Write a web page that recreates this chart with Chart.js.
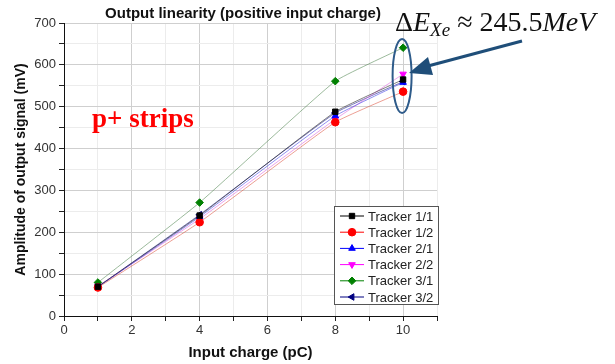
<!DOCTYPE html>
<html>
<head>
<meta charset="utf-8">
<script src="https://cdn.jsdelivr.net/npm/chart.js@4"></script>
<style>
  html, body { margin: 0; padding: 0; background: #fff; }
  #wrap { width: 615px; height: 364px; }
</style>
</head>
<body>
<div id="wrap"><canvas id="chart" width="615" height="364"></canvas></div>
<script>
// ===== DATA =====
const charges = [1, 4, 8, 10];
const tracker11 = [70, 240, 488, 565];
const tracker12 = [68, 224, 463, 536];
const tracker21 = [69, 237, 478, 558];
const tracker22 = [71, 232, 470, 578];
const tracker31 = [80, 271, 561, 641];
const tracker32 = [70, 242, 485, 560];
const seriesNames = ['Tracker 1/1', 'Tracker 1/2', 'Tracker 2/1', 'Tracker 2/2', 'Tracker 3/1', 'Tracker 3/2'];
const xTicks = [0, 2, 4, 6, 8, 10];
const yTicks = [0, 100, 200, 300, 400, 500, 600, 700];

const FONT = '"Liberation Sans", Arial, sans-serif';
const SERIF = '"Liberation Serif", "DejaVu Serif", serif';

const styles = [
  { color: '#000000', line: 'rgba(0,0,0,0.5)',       point: 'rect',     rot: 0 },
  { color: '#ff0000', line: 'rgba(220,80,60,0.55)',  point: 'circle',   rot: 0 },
  { color: '#0000ff', line: 'rgba(50,50,230,0.55)',  point: 'triangle', rot: 0 },
  { color: '#ff00ff', line: 'rgba(220,90,220,0.55)', point: 'triangle', rot: 180 },
  { color: '#008000', line: 'rgba(90,140,90,0.6)',   point: 'rectRot',  rot: 0 },
  { color: '#000080', line: 'rgba(30,30,140,0.6)',   point: 'triangle', rot: -90 }
];
const allSeries = [tracker11, tracker12, tracker21, tracker22, tracker31, tracker32];

const datasets = allSeries.map((vals, i) => ({
  label: seriesNames[i],
  data: vals.map((v, j) => ({ x: charges[j], y: v })),
  borderColor: styles[i].line,
  backgroundColor: styles[i].color,
  pointBorderColor: styles[i].color,
  pointBackgroundColor: styles[i].color,
  pointStyle: styles[i].point,
  rotation: styles[i].rot,
  pointRadius: 3.8,
  borderWidth: 1,
  tension: 0.12
}));

// ===== OVERLAY (title, annotations, legend) =====
const overlay = {
  id: 'overlay',
  afterDraw(chart) {
    const ctx = chart.ctx;
    ctx.save();

    // title
    ctx.fillStyle = '#111';
    ctx.font = 'bold 15px ' + FONT;
    ctx.textAlign = 'center';
    ctx.textBaseline = 'middle';
    ctx.fillText('Output linearity (positive input charge)', 243, 14);

    // p+ strips
    ctx.fillStyle = '#ff0000';
    ctx.font = 'bold 27px ' + SERIF;
    ctx.textAlign = 'left';
    ctx.textBaseline = 'alphabetic';
    ctx.fillText('p+ strips', 92, 127);

    // ellipse around x = 10
    const cx = chart.scales.x.getPixelForValue(10);
    ctx.strokeStyle = '#2e5b8a';
    ctx.lineWidth = 2;
    ctx.beginPath();
    ctx.ellipse(cx - 1, 76, 9.5, 37, 0, 0, Math.PI * 2);
    ctx.stroke();

    // arrow
    ctx.strokeStyle = '#1f4e79';
    ctx.fillStyle = '#1f4e79';
    ctx.lineWidth = 3;
    ctx.beginPath();
    ctx.moveTo(522, 41);
    ctx.lineTo(428, 66);
    ctx.stroke();
    ctx.beginPath();
    ctx.moveTo(409, 73);
    ctx.lineTo(428, 57);
    ctx.lineTo(433, 75);
    ctx.closePath();
    ctx.fill();

    // Delta E_Xe ≈ 245.5MeV
    ctx.fillStyle = '#111';
    let x = 395;
    const base = 31;
    const parts = [
      ['Δ', '28px ' + SERIF, 0],
      ['E', 'italic 28px ' + SERIF, 0],
      ['Xe', 'italic 19px ' + SERIF, 5],
      [' ≈ 245.5', '28px ' + SERIF, 0],
      ['MeV', 'italic 28px ' + SERIF, 0]
    ];
    parts.forEach(p => {
      ctx.font = p[1];
      ctx.fillText(p[0], x, base + p[2]);
      x += ctx.measureText(p[0]).width;
    });

    // legend box
    const lx = 334, ly = 206, lw = 104, lh = 98;
    ctx.fillStyle = '#fff';
    ctx.fillRect(lx, ly, lw, lh);
    ctx.strokeStyle = '#555';
    ctx.lineWidth = 1;
    ctx.strokeRect(lx + 0.5, ly + 0.5, lw, lh);
    ctx.font = '13px ' + FONT;
    ctx.textBaseline = 'middle';
    chart.data.datasets.forEach((ds, i) => {
      const y = ly + 10 + i * 16.2;
      ctx.strokeStyle = styles[i].color;
      ctx.lineWidth = 1;
      ctx.beginPath();
      ctx.moveTo(lx + 6, y);
      ctx.lineTo(lx + 30, y);
      ctx.stroke();
      ctx.fillStyle = styles[i].color;
      Chart.helpers.drawPoint(ctx, {
        pointStyle: styles[i].point, rotation: styles[i].rot,
        radius: 3.8, borderWidth: 1
      }, lx + 18, y);
      ctx.fillStyle = '#222';
      ctx.fillText(ds.label, lx + 34, y + 1);
    });

    ctx.restore();
  }
};

// ===== CHART =====
new Chart(document.getElementById('chart'), {
  type: 'line',
  data: { datasets },
  options: {
    responsive: false,
    animation: false,
    layout: { padding: { top: 23, right: 178, left: 0, bottom: 0 } },
    plugins: { legend: { display: false }, tooltip: { enabled: false } },
    scales: {
      x: {
        type: 'linear',
        min: 0, max: 11,
        afterFit: s => { s.height = 48; },
        afterBuildTicks: s => { s.ticks = Array.from({ length: 12 }, (_, i) => ({ value: i })); },
        ticks: {
          color: '#333', font: { family: FONT, size: 13 }, padding: 2, maxRotation: 0,
          callback: v => xTicks.includes(v) ? v : ''
        },
        grid: {
          color: c => (c.tick && c.tick.value % 2 === 0) ? '#cfcfcf' : '#ececec',
          tickColor: '#222', tickLength: 5
        },
        border: { color: '#111', width: 1 },
        title: {
          display: true, text: 'Input charge (pC)', color: '#111',
          font: { family: FONT, size: 15, weight: 'bold' }, padding: { top: 0, bottom: 2 }
        }
      },
      y: {
        min: 0, max: 700,
        afterFit: s => { s.width = 64; },
        afterBuildTicks: s => { s.ticks = Array.from({ length: 15 }, (_, i) => ({ value: i * 50 })); },
        ticks: {
          color: '#333', font: { family: FONT, size: 13 }, padding: 3,
          callback: v => yTicks.includes(v) ? v : ''
        },
        grid: {
          color: c => (c.tick && c.tick.value % 100 === 0) ? '#cfcfcf' : '#ececec',
          tickColor: '#222', tickLength: 5
        },
        border: { color: '#111', width: 1 },
        title: {
          display: true, text: 'Amplitude of output signal (mV)', color: '#111',
          font: { family: FONT, size: 14, weight: 'bold' }, padding: { top: 13, bottom: 0 }
        }
      }
    }
  },
  plugins: [overlay]
});
</script>
</body>
</html>
